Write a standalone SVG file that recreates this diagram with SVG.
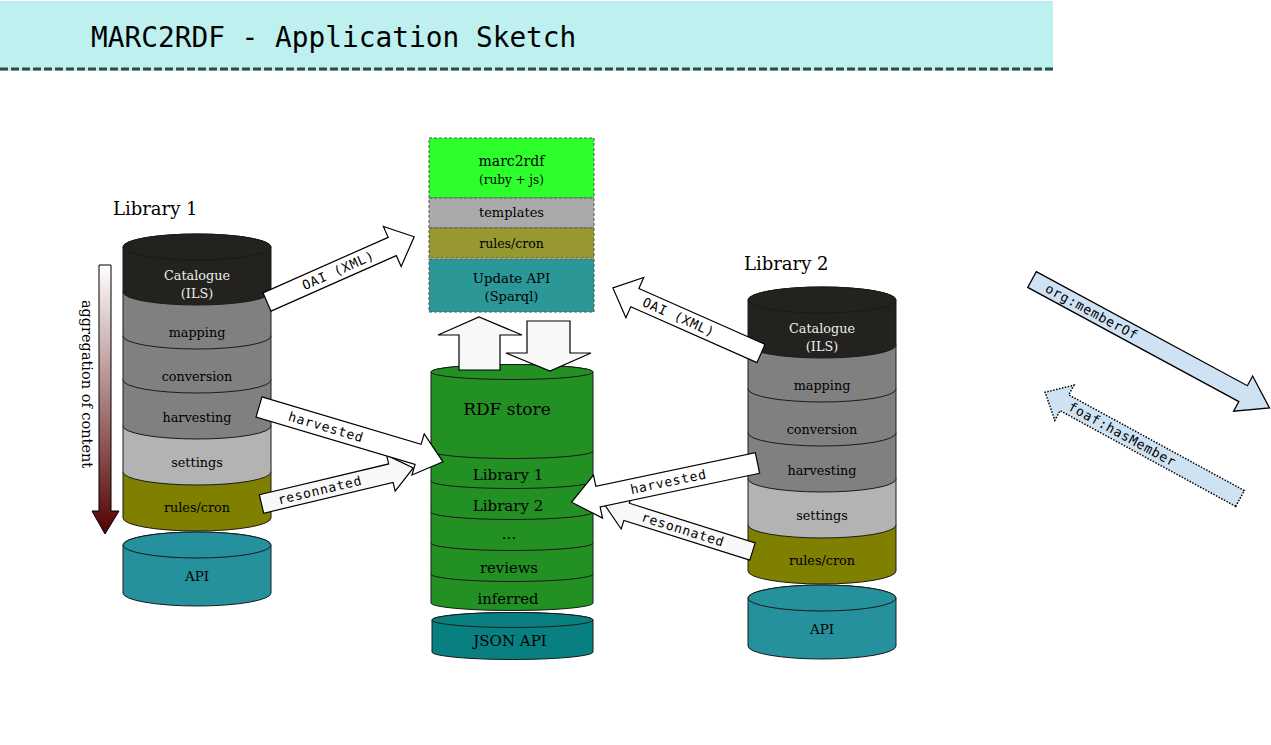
<svg xmlns="http://www.w3.org/2000/svg" width="1271" height="745" viewBox="0 0 1271 745">
<style>
.lay{stroke:#1a1a1a;stroke-width:1}
.ser{font-family:"DejaVu Serif","Liberation Serif",serif;text-anchor:middle;fill:#000}
.ly{font-size:12.8px}
.mono{font-family:"DejaVu Sans Mono","Liberation Mono",monospace;font-size:13px;letter-spacing:0.8px;text-anchor:middle;fill:#000}
.arw{fill:#ffffff;stroke:#000;stroke-width:1.2;stroke-linejoin:miter}
.arw2{fill:#f8f8f8;stroke:#000;stroke-width:1.2}
.box{stroke:#555;stroke-width:1;stroke-dasharray:3,2}
.rel{fill:#cfe2f3;stroke:#000;stroke-width:1.3}
.reld{fill:#cfe2f3;stroke:#000;stroke-width:1.5;stroke-dasharray:1.5,1.5}
</style>
<defs>
<linearGradient id="agg" x1="0" y1="0" x2="0" y2="1">
<stop offset="0" stop-color="#ffffff"/>
<stop offset="1" stop-color="#550000"/>
</linearGradient>
</defs>
<rect width="1271" height="745" fill="#ffffff"/>
<g id="title">
<rect x="0" y="1" width="1053" height="70" fill="#bdf0ef"/>
<line x1="0" y1="69" x2="1053" y2="69" stroke="#2e4a4a" stroke-width="3" stroke-dasharray="8,3"/>
<text x="91" y="47" font-family="DejaVu Sans Mono,Liberation Mono,monospace" font-size="27.8" fill="#000">MARC2RDF - Application Sketch</text>
</g>
<g id="aggregation">
<path d="M99,265 H111 V511 H119 L105,534 L92,511 H99 Z" fill="url(#agg)" stroke="#000" stroke-width="1"/>
<text class="ser" font-size="14.5" transform="translate(82,384) rotate(90)">aggregation of content</text>
</g>
<g id="library1">
<text class="ser" x="113" y="215" font-size="18" style="text-anchor:start">Library 1</text>
<g id="library1-stack">
<path class="lay" fill="#7f7f00" d="M123,472 A74,13 0 0 1 271,472 V518 A74,13 0 0 1 123,518 Z"/>
<path class="lay" fill="#b3b3b3" d="M123,426 A74,13 0 0 1 271,426 V472 A74,13 0 0 1 123,472 Z"/>
<path class="lay" fill="#808080" d="M123,380 A74,13 0 0 1 271,380 V426 A74,13 0 0 1 123,426 Z"/>
<path class="lay" fill="#808080" d="M123,336 A74,13 0 0 1 271,336 V380 A74,13 0 0 1 123,380 Z"/>
<path class="lay" fill="#808080" d="M123,292 A74,13 0 0 1 271,292 V336 A74,13 0 0 1 123,336 Z"/>
<path class="lay" fill="#23221e" d="M123,247 A74,13 0 0 1 271,247 V292 A74,13 0 0 1 123,292 Z"/>
<ellipse class="lay" cx="197" cy="247" rx="74" ry="13" fill="#23221e"/>
<text class="ser ly" x="197" y="280" style="fill:#eeeeee">Catalogue</text>
<text class="ser ly" x="197" y="298" style="fill:#eeeeee">(ILS)</text>
<text class="ser ly" x="197" y="337">mapping</text>
<text class="ser ly" x="197" y="381">conversion</text>
<text class="ser ly" x="197" y="422">harvesting</text>
<text class="ser ly" x="197" y="467">settings</text>
<text class="ser ly" x="197" y="512">rules/cron</text>
</g>
<g id="library1-api">
<path class="lay" fill="#24919c" d="M123,545 A74,13 0 0 1 271,545 V593 A74,13 0 0 1 123,593 Z"/>
<ellipse class="lay" cx="197" cy="545" rx="74" ry="13" fill="#24919c"/>
<text class="ser" x="197" y="581" font-size="13.5">API</text>
</g>
</g>
<g id="library2">
<text class="ser" x="744" y="270" font-size="18" style="text-anchor:start">Library 2</text>
<g id="library2-stack" transform="translate(625,53)">
<path class="lay" fill="#7f7f00" d="M123,472 A74,13 0 0 1 271,472 V518 A74,13 0 0 1 123,518 Z"/>
<path class="lay" fill="#b3b3b3" d="M123,426 A74,13 0 0 1 271,426 V472 A74,13 0 0 1 123,472 Z"/>
<path class="lay" fill="#808080" d="M123,380 A74,13 0 0 1 271,380 V426 A74,13 0 0 1 123,426 Z"/>
<path class="lay" fill="#808080" d="M123,336 A74,13 0 0 1 271,336 V380 A74,13 0 0 1 123,380 Z"/>
<path class="lay" fill="#808080" d="M123,292 A74,13 0 0 1 271,292 V336 A74,13 0 0 1 123,336 Z"/>
<path class="lay" fill="#23221e" d="M123,247 A74,13 0 0 1 271,247 V292 A74,13 0 0 1 123,292 Z"/>
<ellipse class="lay" cx="197" cy="247" rx="74" ry="13" fill="#23221e"/>
<text class="ser ly" x="197" y="280" style="fill:#eeeeee">Catalogue</text>
<text class="ser ly" x="197" y="298" style="fill:#eeeeee">(ILS)</text>
<text class="ser ly" x="197" y="337">mapping</text>
<text class="ser ly" x="197" y="381">conversion</text>
<text class="ser ly" x="197" y="422">harvesting</text>
<text class="ser ly" x="197" y="467">settings</text>
<text class="ser ly" x="197" y="512">rules/cron</text>
</g>
<g id="library2-api" transform="translate(625,53)">
<path class="lay" fill="#24919c" d="M123,545 A74,13 0 0 1 271,545 V593 A74,13 0 0 1 123,593 Z"/>
<ellipse class="lay" cx="197" cy="545" rx="74" ry="13" fill="#24919c"/>
<text class="ser" x="197" y="581" font-size="13.5">API</text>
</g>
</g>
<g id="marc2rdf">
<rect class="box" x="429" y="138" width="165" height="60" fill="#2cff2c"/>
<text class="ser" x="511.5" y="166" font-size="14">marc2rdf</text>
<text class="ser" x="511.5" y="184" font-size="12">(ruby + js)</text>
<rect class="box" x="429" y="198" width="165" height="30" fill="#aaaaaa"/>
<text class="ser" x="511.5" y="216.5" font-size="13">templates</text>
<rect class="box" x="429" y="228" width="165" height="30" fill="#989830"/>
<text class="ser" x="511.5" y="247.5" font-size="12.5">rules/cron</text>
<rect class="box" x="429" y="259" width="165" height="53" fill="#2b9797"/>
<text class="ser" x="511.5" y="283" font-size="13.3">Update API</text>
<text class="ser" x="511.5" y="301" font-size="13">(Sparql)</text>
</g>
<g id="rdfstore">
<path class="lay" fill="#239023" d="M431,574 A81,7.5 0 0 1 593,574 V603 A81,7.5 0 0 1 431,603 Z"/>
<path class="lay" fill="#239023" d="M431,543 A81,7.5 0 0 1 593,543 V574 A81,7.5 0 0 1 431,574 Z"/>
<path class="lay" fill="#239023" d="M431,512 A81,7.5 0 0 1 593,512 V543 A81,7.5 0 0 1 431,543 Z"/>
<path class="lay" fill="#239023" d="M431,481 A81,7.5 0 0 1 593,481 V512 A81,7.5 0 0 1 431,512 Z"/>
<path class="lay" fill="#239023" d="M431,451 A81,7.5 0 0 1 593,451 V481 A81,7.5 0 0 1 431,481 Z"/>
<path class="lay" fill="#239023" d="M431,372 A81,7.5 0 0 1 593,372 V451 A81,7.5 0 0 1 431,451 Z"/>
<ellipse class="lay" cx="512" cy="372" rx="81" ry="7.5" fill="#239023"/>
<text class="ser" x="507" y="415" font-size="17">RDF store</text>
<text class="ser" x="508" y="479.5" font-size="15">Library 1</text>
<text class="ser" x="508" y="510.5" font-size="15">Library 2</text>
<text class="ser" x="509" y="539" font-size="15">...</text>
<text class="ser" x="509" y="573" font-size="14.8">reviews</text>
<text class="ser" x="508" y="604" font-size="14.8">inferred</text>
</g>
<g id="jsonapi">
<path class="lay" fill="#087f80" d="M432,620 A80.5,7.5 0 0 1 593,620 V652 A80.5,7.5 0 0 1 432,652 Z"/>
<ellipse class="lay" cx="512.5" cy="620" rx="80.5" ry="7.5" fill="#087f80"/>
<text class="ser" x="510" y="646" font-size="15">JSON API</text>
</g>
<g id="connectors">
<path class="arw2" d="M459,370 V335 H438 L479,317 L522,335 H500 V370 Z"/>
<path class="arw2" d="M527,321 H570 V353 H591 L550,371 L506,353 H527 Z"/>
<g transform="translate(267,302) rotate(-23.9)">
<path class="arw" d="M0,-10 H137 V-22 L161,0 L137,22 V10 H0 Z"/>
<text class="mono" x="78" y="4.5">OAI (XML)</text>
</g>
<g transform="translate(261.5,504) rotate(-13.4)">
<path class="arw2" d="M0,-9.5 H133 V-18.5 L156,0 L133,18.5 V9.5 H0 Z"/>
<text class="mono" x="60" y="4.5">resonnated</text>
</g>
<g transform="translate(259,407) rotate(16.6)">
<path class="arw" d="M0,-10.5 H166 V-21.5 L192,0 L166,21.5 V10.5 H0 Z"/>
<text class="mono" x="70" y="4.5">harvested</text>
</g>
<g transform="translate(761,353.5) rotate(203.9)">
<path class="arw" d="M0,-10 H138 V-22 L162,0 L138,22 V10 H0 Z"/>
<text class="mono" transform="translate(90,0) rotate(180)" y="4.5">OAI (XML)</text>
</g>
<g transform="translate(752.5,551.5) rotate(197.5)">
<path class="arw2" d="M0,-9 H132 V-18 L155,0 L132,18 V9 H0 Z"/>
<text class="mono" transform="translate(73,0) rotate(180)" y="4.5">resonnated</text>
</g>
<g transform="translate(757.5,463) rotate(168.1)">
<path class="arw" d="M0,-10.5 H163 V-22 L190,0 L163,22 V10.5 H0 Z"/>
<text class="mono" transform="translate(91,0) rotate(180)" y="4.5">harvested</text>
</g>
<g transform="translate(1032,279.5) rotate(28.4)">
<path class="rel" d="M0,-9 H240 V-20 L270,0 L240,20 V9 H0 Z"/>
<text class="mono" x="68" y="4.5">org:memberOf</text>
</g>
<g transform="translate(1240,498.5) rotate(208.6)">
<path class="reld" d="M0,-9 H200 V-20 L222,0 L200,20 V9 H0 Z"/>
<text class="mono" transform="translate(134,0) rotate(180)" y="4.5">foaf:hasMember</text>
</g>
</g>
</svg>
